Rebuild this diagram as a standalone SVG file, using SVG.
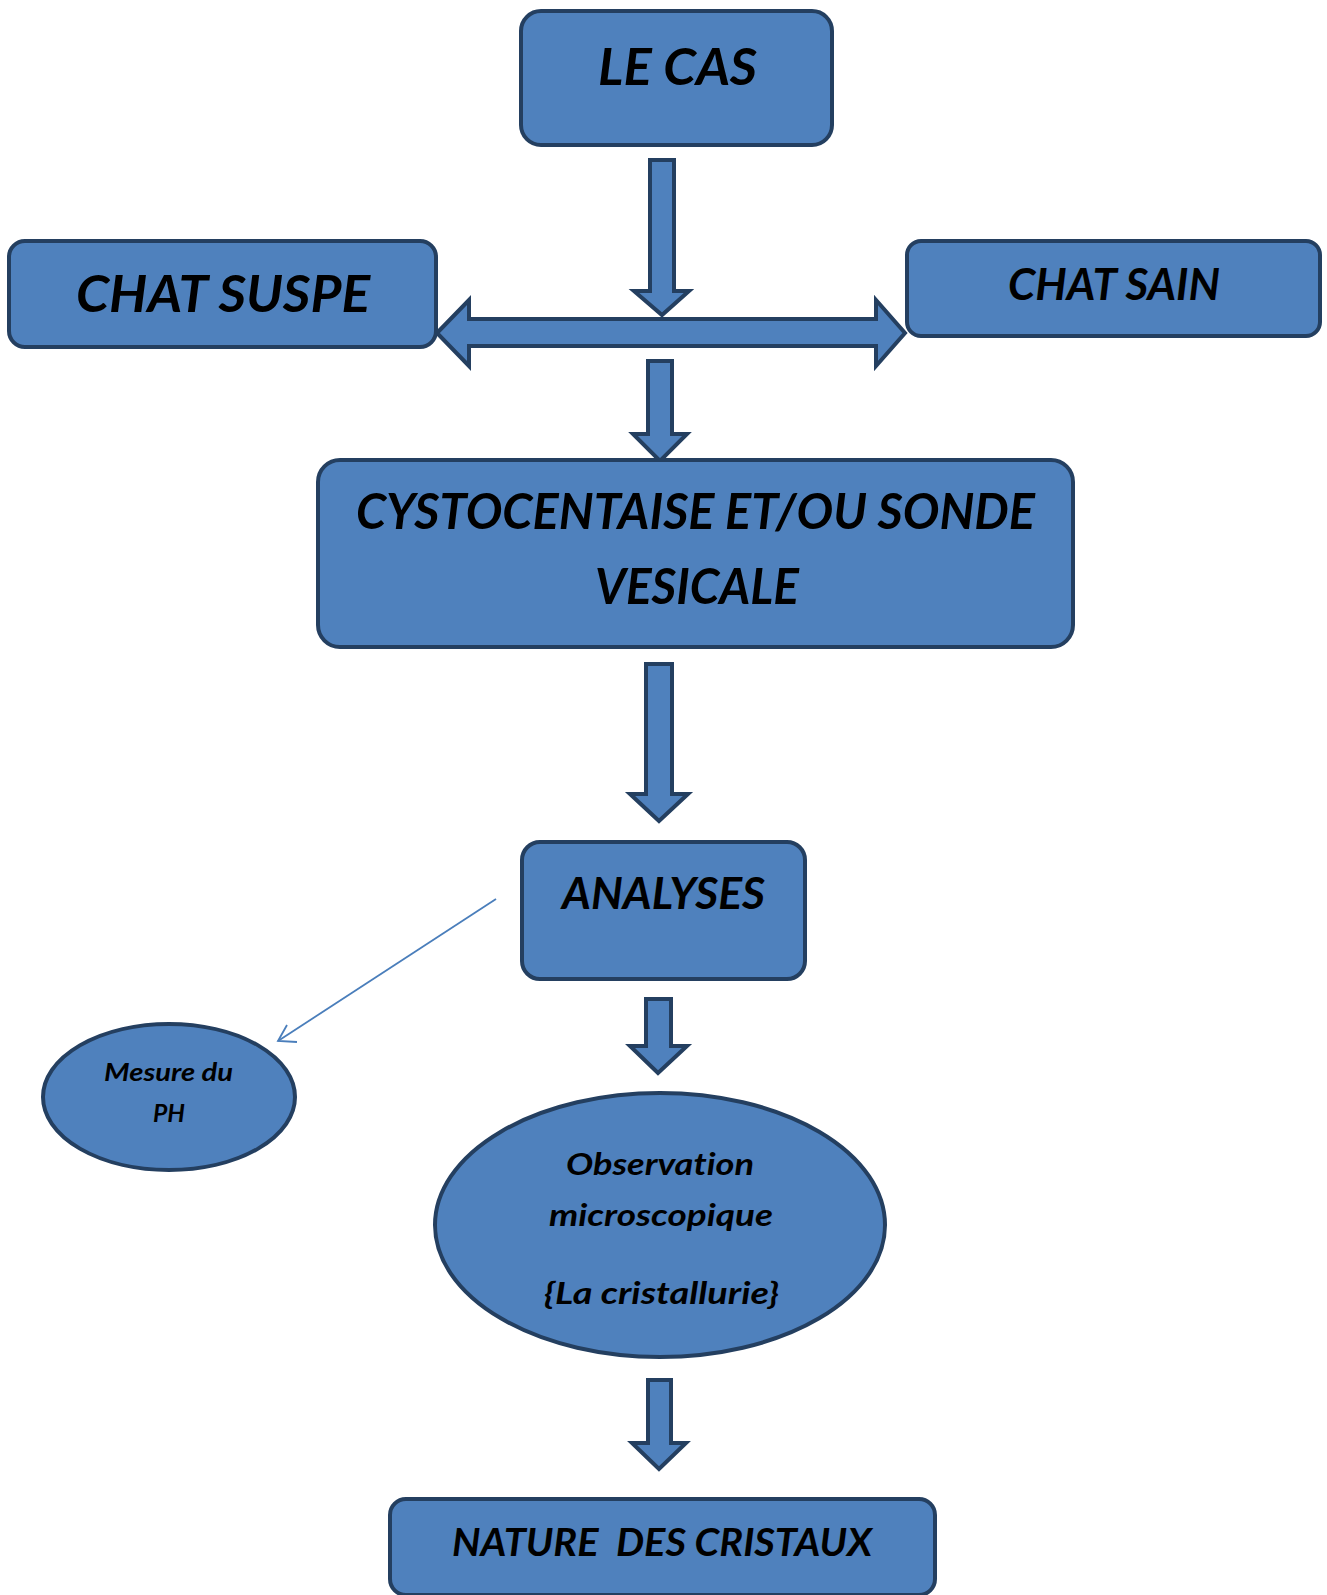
<svg xmlns="http://www.w3.org/2000/svg" width="1327" height="1595" viewBox="0 0 1327 1595">
<style>
.box{fill:#4f81bd;stroke:#243f60;stroke-width:4}
.arr{fill:#4f81bd;stroke:#243f60;stroke-width:4;stroke-linejoin:miter}
.t{font-family:Lato,"Open Sans","Liberation Sans",sans-serif;font-weight:bold;font-style:italic;fill:#000;font-variant-ligatures:none}
.thin{stroke:#4a7ebb;stroke-width:1.8;fill:none}
</style>
<rect width="1327" height="1595" fill="#ffffff"/>
<g id="connectors">
<polygon class="arr" points="650,160 674,160 674,291 689,291 662,315 634,291 650,291"/>
<polygon class="arr" points="437,333 469,300 469,319 876,319 876,300 905,333 876,366 876,346 469,346 469,366"/>
<polygon class="arr" points="648,361 672,361 672,434 687,434 660,461 633,434 648,434"/>
<polygon class="arr" points="646,664 672,664 672,794 688,794 659,821 630,794 646,794"/>
<polygon class="arr" points="646,999 671,999 671,1046 687,1046 658,1073 630,1046 646,1046"/>
<polygon class="arr" points="648,1380 671,1380 671,1443 686,1443 659,1469 632,1443 648,1443"/>
<line class="thin" x1="496" y1="899" x2="278" y2="1041"/>
<polyline class="thin" points="287,1025 278,1041 297,1042"/>
</g>
<g id="le-cas">
<rect class="box" x="521" y="11" width="311" height="134" rx="20"/>
<text class="t" x="598" y="85" font-size="51" textLength="159" lengthAdjust="spacingAndGlyphs">LE CAS</text>
</g>
<g id="chat-suspe">
<rect class="box" x="9" y="241" width="427" height="106" rx="16"/>
<text class="t" x="76" y="312" font-size="52" textLength="294" lengthAdjust="spacingAndGlyphs">CHAT SUSPE</text>
</g>
<g id="chat-sain">
<rect class="box" x="907" y="241" width="413" height="95" rx="14"/>
<text class="t" x="1008" y="300" font-size="43" textLength="212" lengthAdjust="spacingAndGlyphs">CHAT SAIN</text>
</g>
<g id="cystocentaise">
<rect class="box" x="318" y="460" width="755" height="187" rx="22"/>
<text class="t" x="356" y="529" font-size="49" textLength="679" lengthAdjust="spacingAndGlyphs">CYSTOCENTAISE ET/OU SONDE</text>
<text class="t" x="595" y="604" font-size="49" textLength="204" lengthAdjust="spacingAndGlyphs">VESICALE</text>
</g>
<g id="analyses">
<rect class="box" x="522" y="842" width="283" height="137" rx="18"/>
<text class="t" x="562" y="909" font-size="44" textLength="203" lengthAdjust="spacingAndGlyphs">ANALYSES</text>
</g>
<g id="mesure-ph">
<ellipse class="box" cx="169" cy="1097" rx="126" ry="73"/>
<text class="t" x="104" y="1081" font-size="25" textLength="129" lengthAdjust="spacingAndGlyphs">Mesure du</text>
<text class="t" x="153" y="1122" font-size="25" textLength="32" lengthAdjust="spacingAndGlyphs">PH</text>
</g>
<g id="observation">
<ellipse class="box" cx="660" cy="1225" rx="225" ry="132"/>
<text class="t" x="566" y="1175" font-size="30" textLength="188" lengthAdjust="spacingAndGlyphs">Observation</text>
<text class="t" x="549" y="1226" font-size="30" textLength="224" lengthAdjust="spacingAndGlyphs">microscopique</text>
<text class="t" x="544" y="1304" font-size="30" textLength="235" lengthAdjust="spacingAndGlyphs">{La cristallurie}</text>
</g>
<g id="nature">
<rect class="box" x="390" y="1499" width="545" height="96" rx="16"/>
<text class="t" x="452" y="1556" font-size="38" textLength="420" lengthAdjust="spacingAndGlyphs" xml:space="preserve" style="white-space:pre">NATURE  DES CRISTAUX</text>
</g>
</svg>
